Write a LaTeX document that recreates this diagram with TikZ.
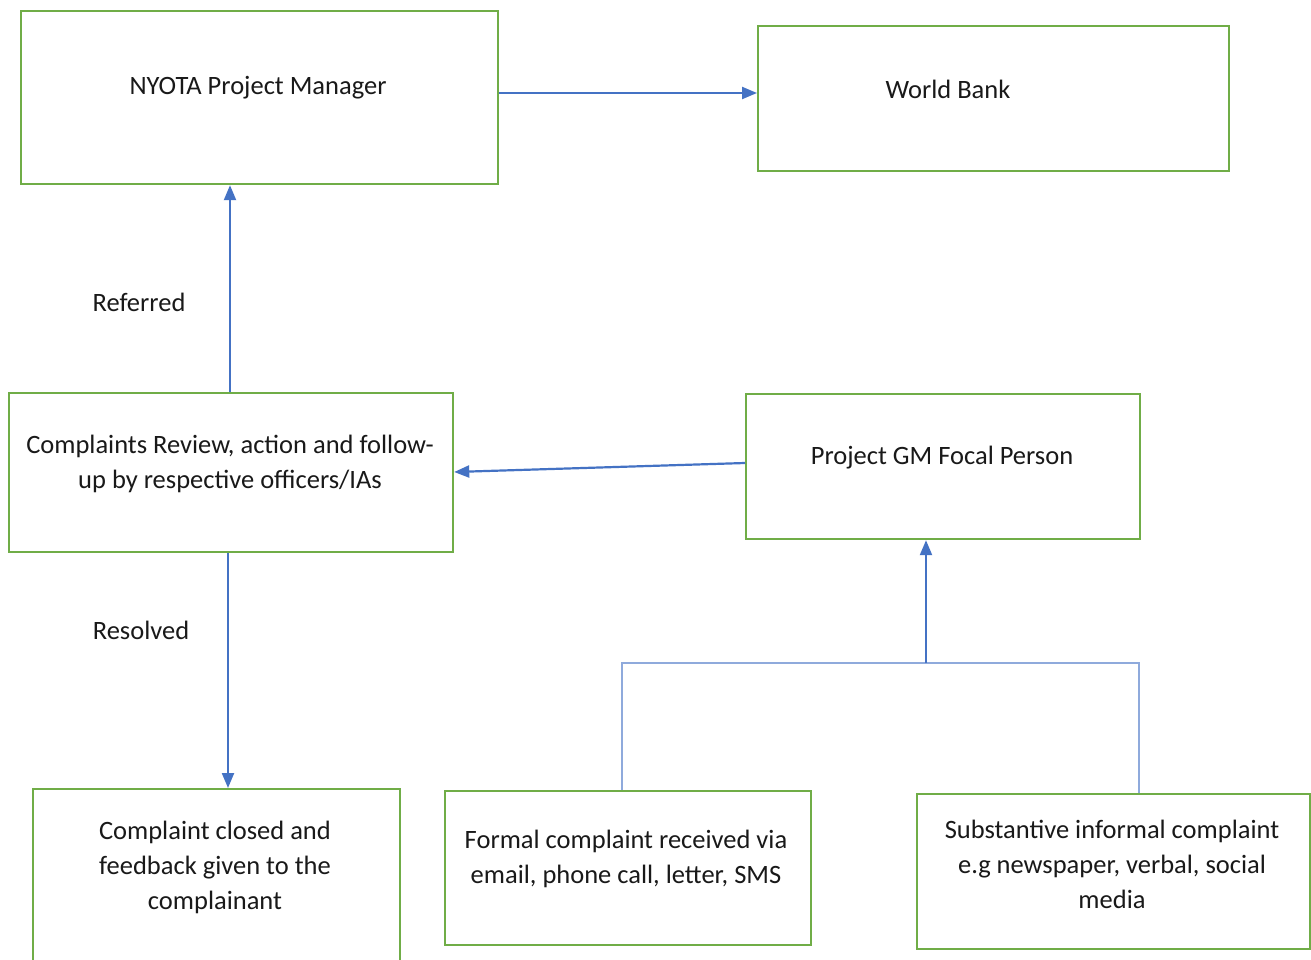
\documentclass[tikz,border=0pt]{standalone}
\usepackage{fontspec}
\setmainfont{Carlito}
\usetikzlibrary{arrows.meta}
\definecolor{boxgreen}{HTML}{70AD47}
\definecolor{arrowblue}{HTML}{4472C4}
\definecolor{treeblue}{HTML}{8FAADC}
\begin{document}
\begin{tikzpicture}[x=1pt,y=-1pt,
  box/.style={draw=boxgreen, line width=2.2pt, rectangle, inner sep=0pt, anchor=north west},
  txt/.style={align=center, font=\fontsize{26.5}{35}\selectfont, text=black!90, inner sep=0pt},
  flow/.style={draw=arrowblue, line width=2.2pt, -{Triangle[length=15pt,width=12pt]}},
  tree/.style={draw=treeblue, line width=1.3pt}]
\clip (0,0) rectangle (1311,960);
\fill[white] (0,0) rectangle (1311,960);
% boxes
\node[box, minimum width=477pt, minimum height=173pt] (b1) at (20,10) {};
\node[box, minimum width=471pt, minimum height=145pt] (b2) at (757,25) {};
\node[box, minimum width=444pt, minimum height=159pt] (b3) at (8,392) {};
\node[box, minimum width=394pt, minimum height=145pt] (b4) at (745,393) {};
\node[box, minimum width=367pt, minimum height=200pt] (b5) at (32,788) {};
\node[box, minimum width=366pt, minimum height=154pt] (b6) at (444,790) {};
\node[box, minimum width=393pt, minimum height=155pt] (b7) at (916,793) {};
% texts
\node[txt] (t1) at (258,88) {NYOTA Project Manager};
\node[txt] (t2) at (948,89) {World Bank};
\node[txt] (t3) at (230,464) {Complaints Review, action and follow-\\up by respective officers/IAs};
\node[txt] (t4) at (942,458) {Project GM Focal Person};
\node[txt] (t5) at (215,867) {Complaint closed and\\feedback given to the\\complainant};
\node[txt] (t6) at (626,859) {Formal complaint received via\\email, phone call, letter, SMS};
\node[txt] (t7) at (1112,864) {Substantive informal complaint\\e.g newspaper, verbal, social\\media};
\node[txt] (l1) at (139,302) {Referred};
\node[txt] (l2) at (141,630) {Resolved};
% connectors
\coordinate (j) at (926,663);
\coordinate (jl) at (622,663);
\coordinate (jr) at (1139,663);
\draw[flow] (b1.east |- 0,93) -- (b2.west |- 0,93);
\draw[flow] (b3.north -| 230,0) -- (b1.south -| 230,0);
\draw[flow] (b4.west |- 0,463) -- (b3.east |- 0,472);
\draw[flow] (b3.south -| 228,0) -- (b5.north -| 228,0);
\draw[tree] (b6.north -| jl) -- (jl) -- (jr) -- (b7.north -| jr);
\draw[flow] (j) -- (b4.south -| j);
\end{tikzpicture}
\end{document}
